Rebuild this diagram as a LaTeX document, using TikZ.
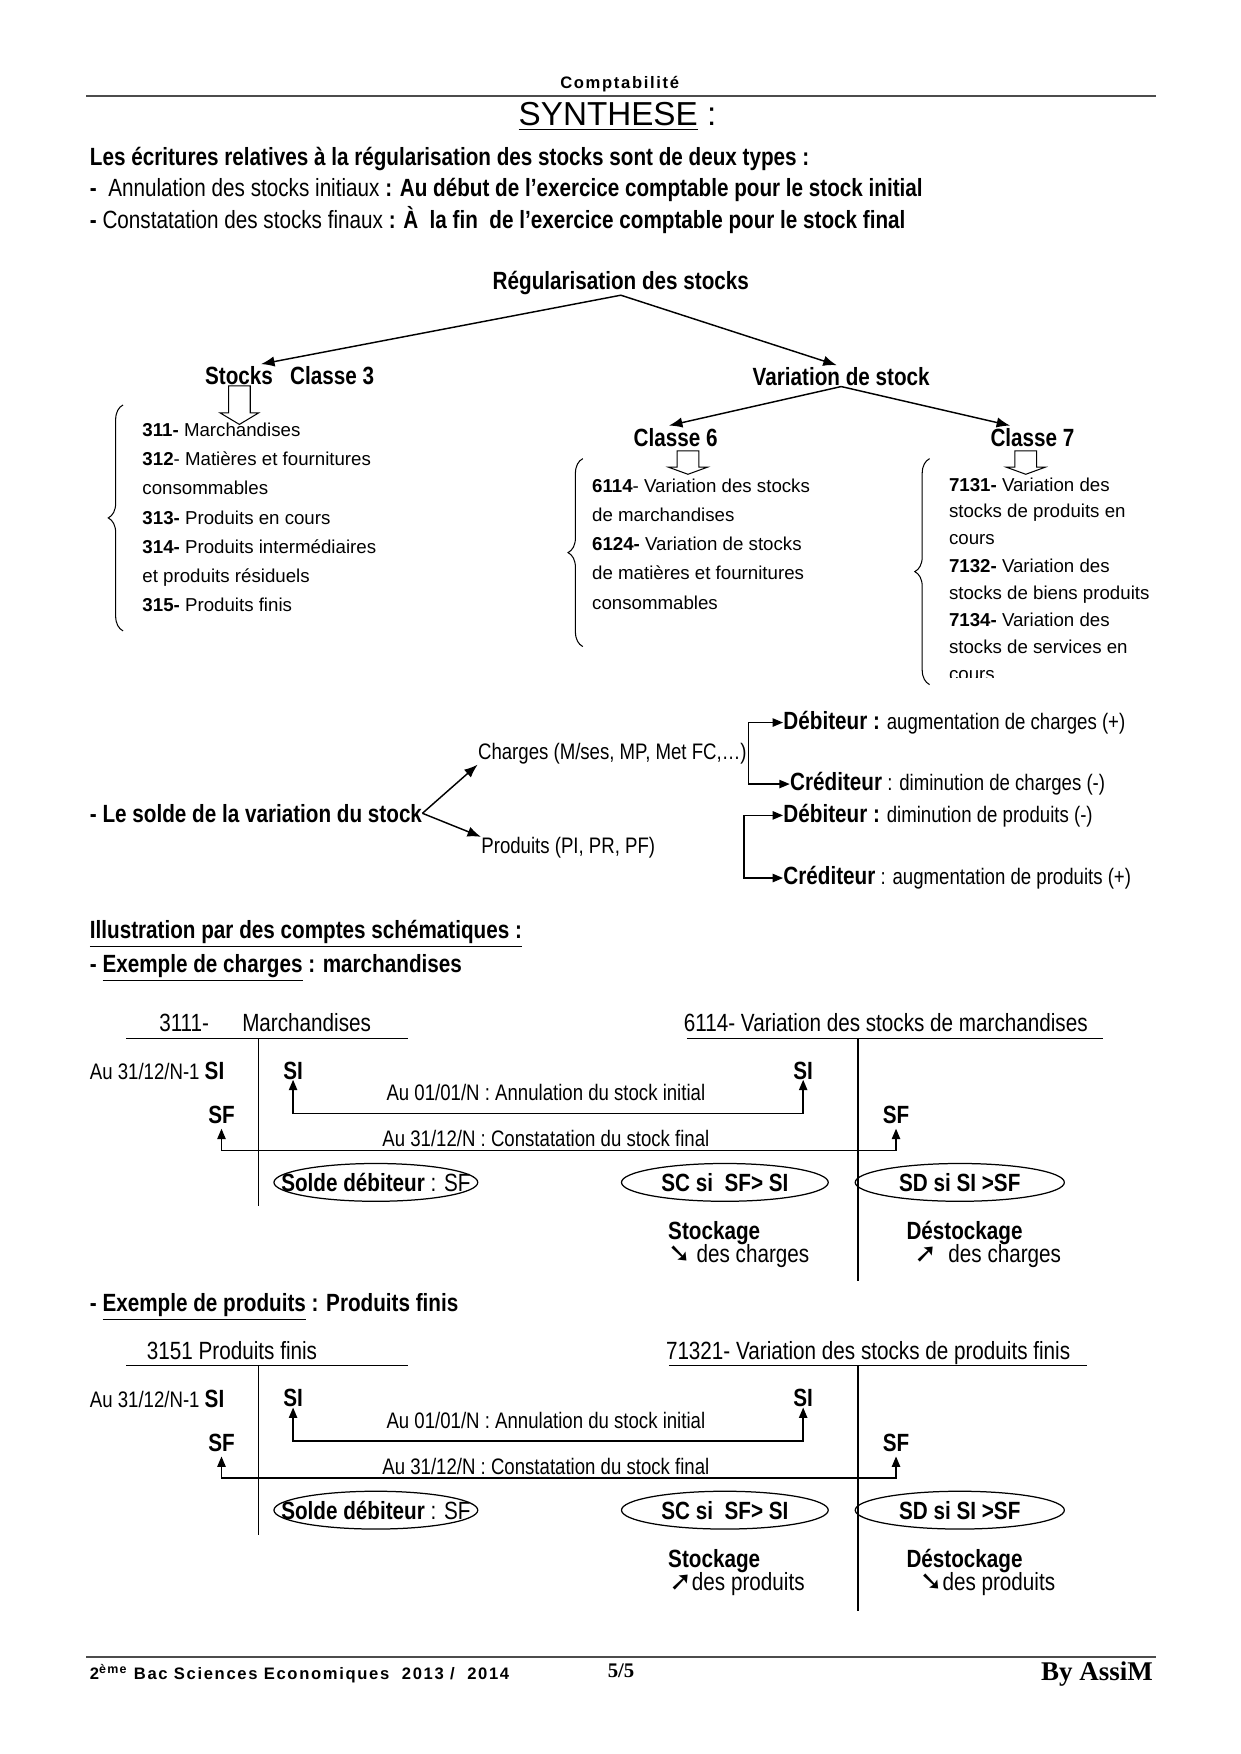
\documentclass[tikz,border=0pt]{standalone}
\usepackage{fontspec}
\setmainfont{Liberation Sans}
\newfontfamily\etroit{Liberation Sans}[FakeStretch=0.83]
\newfontfamily\espace{Liberation Sans}[LetterSpace=10]
\newfontfamily\serif{Liberation Serif}
\newfontfamily\symb{DejaVu Sans}
\usetikzlibrary{arrows.meta, calc, shapes.geometric, decorations.pathreplacing}
\newcommand\grand[1]{{\fontsize{12}{14}\selectfont\bfseries #1}}

\begin{document}
\begin{tikzpicture}[x=0.018936cm, y=-0.018936cm,
	txt/.style={inner sep=0pt, anchor=base west, font=\etroit\fontsize{12}{14}\selectfont},
	gras/.style={txt, font=\etroit\bfseries\fontsize{12}{14}\selectfont},
	petit/.style={txt, font=\etroit\fontsize{10.8}{13}\selectfont},
	liste/.style={inner sep=0pt, anchor=base west, font=\fontsize{9}{11}\selectfont},
	trait/.style={line width=0.5pt},
	fleche/.style={-{Latex[length=6.5pt,width=5pt]}, line width=0.7pt},
	pointe/.style={line width=0.7pt, {Triangle[length=5pt,width=4pt]}-{Triangle[length=5pt,width=4pt]}},
	bulle/.style={draw, ellipse, line width=0.6pt, inner sep=0pt, minimum height=0.64cm, font=\etroit\fontsize{12}{14}\selectfont},
	creux/.pic={\draw[line width=0.5pt] (-9.7,0) -- (-9.7,24) -- (-17.4,24) -- (0,34.4) -- (17.4,24) -- (9.7,24) -- (9.7,0) -- cycle;}
]
	\fill[white] (0,0) rectangle (1109,1568);
	\useasboundingbox (0,0) rectangle (1109,1568);

	% En-tete
	\node[inner sep=0pt, font=\espace\bfseries\fontsize{8}{10}\selectfont] (compta) at (554,75) {Comptabilité};
	\draw[line width=0.9pt, black!70] (77,86) -- (1033,86);
	\node[inner sep=0pt, font=\fontsize{16}{18}\selectfont] (synthese) at (552,104) {\underline{SYNTHESE} :};

	% Introduction
	\node[gras] (intro) at (80,148) {Les écritures relatives à la régularisation des stocks sont de deux types :};
	\node[txt] (annul) at (80,176) {\textbf{-}\ \ Annulation des stocks initiaux \textbf{: Au début de l’exercice comptable pour le stock initial}};
	\node[txt] (constat) at (80,204) {\textbf{-} Constatation des stocks finaux \textbf{: À\ \ la fin\ \ de l’exercice comptable pour le stock final}};

	% Arbre
	\node[gras, anchor=center] (regul) at (555,253) {Régularisation des stocks};
	\node[gras] (stocks) at (183,344) {Stocks};
	\node[gras] (classe3) at (259,344) {Classe 3};
	\node[gras, anchor=center] (variation) at (752,337) {Variation de stock};
	\node[gras, anchor=center] (classe6) at (604,391) {Classe 6};
	\node[gras, anchor=center] (classe7) at (923,391) {Classe 7};
	\draw[fleche] (regul.south) -- ($(stocks.north east)+(-11,-2)$);
	\draw[fleche] (regul.south) -- ($(variation.north)+(-4,-2)$);
	\draw[fleche] (variation.south) -- ($(classe6.north)+(-6,-2)$);
	\draw[fleche] (variation.south) -- ($(classe7.north)+(-20,-2)$);
	\pic at (214,345) {creux};
	\pic[yscale=0.61] at (615,403) {creux};
	\pic[yscale=0.61] at (917,403) {creux};

	% Classe 3
	\draw[trait, decorate, decoration={brace, amplitude=0.25cm}] (110,564) -- (110,362);
	\node[liste] (l311) at (127,390) {\textbf{311-} Marchandises};
	\node[liste] (l312) at (127,416) {\textbf{312}- Matières et fournitures};
	\node[liste] (l312b) at (127,442) {consommables};
	\node[liste] (l313) at (127,469) {\textbf{313-} Produits en cours};
	\node[liste] (l314) at (127,495) {\textbf{314-} Produits intermédiaires};
	\node[liste] (l314b) at (127,521) {et produits résiduels};
	\node[liste] (l315) at (127,547) {\textbf{315-} Produits finis};

	% Classe 6
	\draw[trait, decorate, decoration={brace, amplitude=0.25cm}] (521,578) -- (521,410);
	\node[liste] (l6114) at (529,440) {\textbf{6114}- Variation des stocks};
	\node[liste] (l6114b) at (529,466) {de marchandises};
	\node[liste] (l6124) at (529,492) {\textbf{6124-} Variation de stocks};
	\node[liste] (l6124b) at (529,518) {de matières et fournitures};
	\node[liste] (l6124c) at (529,545) {consommables};

	% Classe 7
	\draw[trait, decorate, decoration={brace, amplitude=0.25cm}] (831,612) -- (831,410);
	\begin{scope}
		\clip (840,400) rectangle (1100,606);
		\node[liste] (l7131) at (848,439) {\textbf{7131-} Variation des};
		\node[liste] (l7131b) at (848,463) {stocks de produits en};
		\node[liste] (l7131c) at (848,487) {cours};
		\node[liste] (l7132) at (848,512) {\textbf{7132-} Variation des};
		\node[liste] (l7132b) at (848,536) {stocks de biens produits};
		\node[liste] (l7134) at (848,560) {\textbf{7134-} Variation des};
		\node[liste] (l7134b) at (848,584) {stocks de services en};
		\node[liste] (l7134c) at (848,608) {cours};
	\end{scope}

	% Solde de la variation
	\node[gras] (solde) at (80,735) {- Le solde de la variation du stock};
	\node[petit] (charges) at (427,679) {Charges (M/ses, MP, Met FC,…)};
	\node[petit] (produits) at (430,763) {Produits (PI, PR, PF)};
	\draw[fleche] (solde.east) -- (charges.south west);
	\draw[fleche] (solde.east) -- (produits.north west);
	\node[petit] (deb1) at (700,652) {\grand{Débiteur :} augmentation de charges (+)};
	\node[petit] (cred1) at (706,707) {\grand{Créditeur} : diminution de charges (-)};
	\node[petit] (deb2) at (700,735) {\grand{Débiteur :} diminution de produits (-)};
	\node[petit] (cred2) at (700,791) {\grand{Créditeur} : augmentation de produits (+)};
	\coordinate (pivot1) at (669,668);
	\coordinate (pivot2) at (665,755);
	\draw[pointe] (deb1.west) -| (pivot1) |- (cred1.west);
	\draw[pointe] (deb2.west) -| (pivot2) |- (cred2.west);

	% Comptes schematiques
	\node[gras] (illus) at (80,839) {\underline{Illustration par des comptes schématiques :}};
	\node[gras] (excharges) at (80,869) {- \underline{Exemple de charges} : marchandises};

	\node[txt] (t3111) at (142,922) {3111-\hspace{16pt}Marchandises};
	\node[txt] (t6114) at (611,922) {6114- Variation des stocks de marchandises};
	\draw[trait] (113,928) -- (365,928);
	\draw[trait] (231,928) -- (231,1078);
	\draw[trait] (614,928) -- (986,928);
	\draw[trait] (767,928) -- (767,1145);
	\node[petit] (au31a) at (80,965) {Au 31/12/N-1 \grand{SI}};
	\node[gras, anchor=center] (si1a) at (262,957) {SI};
	\node[gras, anchor=center] (si2a) at (718,957) {SI};
	\node[gras, anchor=center] (sf1a) at (198,997) {SF};
	\node[gras, anchor=center] (sf2a) at (801,997) {SF};
	\node[petit, anchor=center] (annula) at (488,977) {Au 01/01/N : Annulation du stock initial};
	\node[petit, anchor=center] (consta) at (488,1018) {Au 31/12/N : Constatation du stock final};
	\draw[pointe] (si1a.south) -- ++(0,30) -| (si2a.south);
	\draw[pointe, shorten <=2pt, shorten >=2pt] (sf1a.south) -- ++(0,23) -| (sf2a.south);
	\node[bulle, minimum width=3.45cm] (soldea) at (336,1057) {\makebox[0pt]{\textbf{Solde débiteur} : SF}};
	\node[bulle, minimum width=3.5cm] (sca) at (648,1057) {\makebox[0pt]{\textbf{SC si\ \ SF> SI}}};
	\node[bulle, minimum width=3.54cm] (sda) at (858,1057) {\makebox[0pt]{\textbf{SD si SI >SF}}};
	\node[gras] (stocka) at (597,1108) {Stockage};
	\node[txt] (stockba) at (597,1129) {{\symb\fontsize{13}{14}\selectfont ➘} des charges};
	\node[gras] (destocka) at (810,1108) {Déstockage};
	\node[txt] (destockba) at (817,1129) {{\symb\fontsize{13}{14}\selectfont ➚}\ \ des charges};

	\node[gras] (exproduits) at (80,1172) {- \underline{Exemple de produits} : Produits finis};

	\begin{scope}[shift={(0,293)}]
		\node[txt] (t3151) at (131,922) {3151 Produits finis};
		\node[txt] (t71321) at (595,922) {71321- Variation des stocks de produits finis};
		\draw[trait] (113,928) -- (365,928);
		\draw[trait] (231,928) -- (231,1079);
		\draw[trait] (598,928) -- (972,928);
		\draw[trait] (767,928) -- (767,1147);
		\node[petit] (au31b) at (80,965) {Au 31/12/N-1 \grand{SI}};
		\node[gras, anchor=center] (si1b) at (262,957) {SI};
		\node[gras, anchor=center] (si2b) at (718,957) {SI};
		\node[gras, anchor=center] (sf1b) at (198,997) {SF};
		\node[gras, anchor=center] (sf2b) at (801,997) {SF};
		\node[petit, anchor=center] (annulb) at (488,977) {Au 01/01/N : Annulation du stock initial};
		\node[petit, anchor=center] (constb) at (488,1018) {Au 31/12/N : Constatation du stock final};
		\draw[pointe] (si1b.south) -- ++(0,30) -| (si2b.south);
		\draw[pointe, shorten <=2pt, shorten >=2pt] (sf1b.south) -- ++(0,23) -| (sf2b.south);
		\node[bulle, minimum width=3.45cm] (soldeb) at (336,1057) {\makebox[0pt]{\textbf{Solde débiteur} : SF}};
		\node[bulle, minimum width=3.5cm] (scb) at (648,1057) {\makebox[0pt]{\textbf{SC si\ \ SF> SI}}};
		\node[bulle, minimum width=3.54cm] (sdb) at (858,1057) {\makebox[0pt]{\textbf{SD si SI >SF}}};
		\node[gras] (stockb) at (597,1108) {Stockage};
		\node[txt] (stockbb) at (598,1129) {{\symb\fontsize{13}{14}\selectfont ➚}des produits};
		\node[gras] (destockb) at (810,1108) {Déstockage};
		\node[txt] (destockbb) at (822,1129) {{\symb\fontsize{13}{14}\selectfont ➘}des produits};
	\end{scope}

	% Pied de page
	\draw[line width=0.9pt, black!70] (77,1481) -- (1033,1481);
	\node[inner sep=0pt, anchor=base west, font=\espace\bfseries\fontsize{8}{10}\selectfont] (niveau) at (80,1501) {2\textsuperscript{ème} Bac Sciences Economiques\ \ 2013 /\ \ 2014};
	\node[inner sep=0pt, anchor=base west, font=\serif\bfseries\fontsize{10}{12}\selectfont] (page) at (543,1500) {5/5};
	\node[inner sep=0pt, anchor=base east, font=\serif\bfseries\fontsize{13}{15}\selectfont] (auteur) at (1031,1502) {By AssiM};
\end{tikzpicture}
\end{document}
